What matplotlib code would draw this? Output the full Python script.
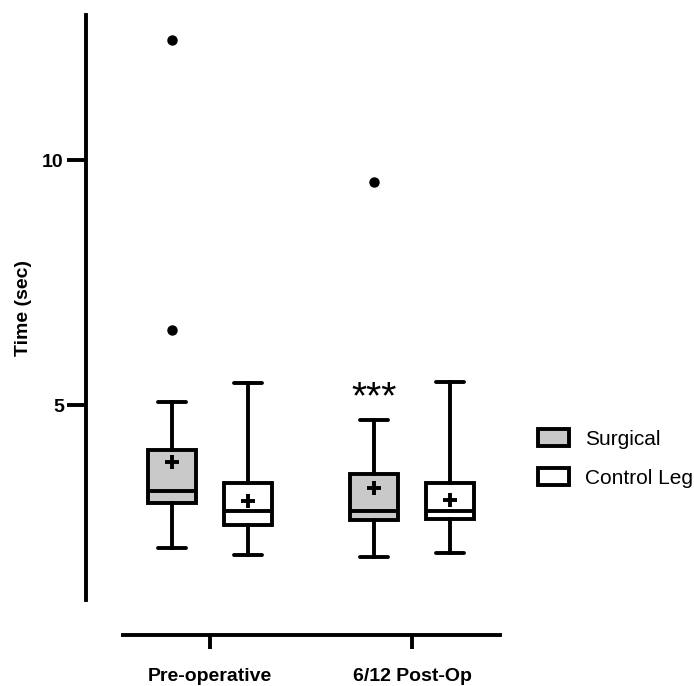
import matplotlib

matplotlib.use("Agg")
import matplotlib.pyplot as plt
from matplotlib.patches import Patch

plt.rcParams["font.family"] = ["Liberation Sans", "DejaVu Sans"]

groups = ["Pre-operative", "6/12 Post-Op"]
series = ["Surgical", "Control Leg"]
colors = ["#c9c9c9", "white"]

# summary stats per series, one value per group
whislo = {"Surgical": [2.08, 1.90], "Control Leg": [1.94, 1.98]}
q1 = {"Surgical": [2.99, 2.65], "Control Leg": [2.55, 2.67]}
med = {"Surgical": [3.25, 2.84], "Control Leg": [2.84, 2.84]}
q3 = {"Surgical": [4.08, 3.59], "Control Leg": [3.41, 3.41]}
whishi = {"Surgical": [5.07, 4.69], "Control Leg": [5.44, 5.46]}
mean = {"Surgical": [3.84, 3.30], "Control Leg": [3.05, 3.06]}
fliers = {"Surgical": [[12.45, 6.53], [9.55]], "Control Leg": [[], []]}

fig = plt.figure(figsize=(6.94, 6.86), dpi=100)
ax = fig.add_axes([123 / 694, 1 - 600 / 686, 377 / 694, 585 / 686])

lw = 2.8
offset = 0.187
for s, name in enumerate(series):
    stats = []
    for g in range(len(groups)):
        stats.append(dict(
            whislo=whislo[name][g], q1=q1[name][g], med=med[name][g],
            q3=q3[name][g], whishi=whishi[name][g], mean=mean[name][g],
            fliers=fliers[name][g],
        ))
    pos = [g + (offset if s else -offset) for g in range(len(groups))]
    ax.bxp(
        stats, positions=pos, widths=0.238, capwidths=0.14,
        patch_artist=True, showmeans=True,
        boxprops=dict(facecolor=colors[s], edgecolor="black", linewidth=lw),
        whiskerprops=dict(color="black", linewidth=lw),
        capprops=dict(color="black", linewidth=lw, solid_capstyle="round"),
        medianprops=dict(color="black", linewidth=lw),
        meanprops=dict(marker="+", markersize=10, markeredgewidth=2.8,
                       markeredgecolor="black"),
        flierprops=dict(marker="o", markersize=6.5, markerfacecolor="black",
                        markeredgecolor="black"),
        manage_ticks=False,
    )

ax.text(1 - offset, 4.94, "***", ha="center", va="baseline", fontsize=28)

ax.set_xlim(-0.431, 1.436)
ax.set_ylim(1.02, 12.96)
ax.set_yticks([5, 10])
ax.set_xticks(range(len(groups)))
ax.set_xticklabels(groups)

for side in ["top", "right"]:
    ax.spines[side].set_visible(False)
ax.spines["left"].set_position(("outward", 26.6))
ax.spines["bottom"].set_position(("outward", 25))
for side in ["left", "bottom"]:
    ax.spines[side].set_linewidth(lw)
ax.tick_params(axis="both", width=lw, labelsize=14)
ax.tick_params(axis="y", length=14, pad=2)
ax.tick_params(axis="x", length=10, pad=14)
for lab in ax.get_xticklabels() + ax.get_yticklabels():
    lab.set_fontweight("bold")

ax.set_ylabel("Time (sec)", fontsize=14, fontweight="bold", labelpad=7)

handles = [Patch(facecolor=c, edgecolor="black", linewidth=lw) for c in colors]
fig.legend(
    handles, series, loc="center left",
    bbox_to_anchor=(538 / 694, 1 - 458.5 / 686),
    frameon=False, fontsize=15, borderpad=0, borderaxespad=0,
    handlelength=1.5, handleheight=0.85, handletextpad=0.75, labelspacing=0.95,
)

fig.savefig("out.png", dpi=100)
